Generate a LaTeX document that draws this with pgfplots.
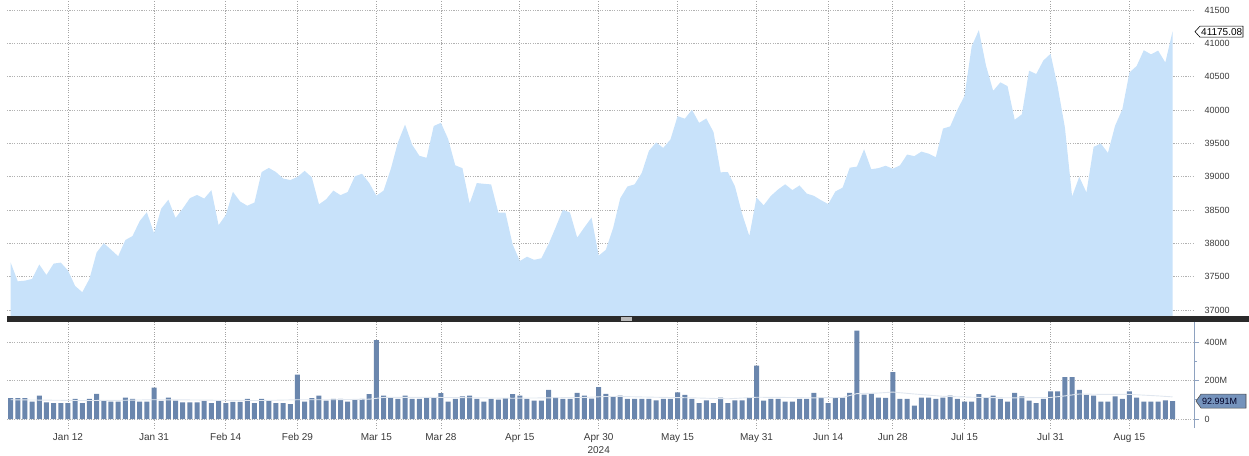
\documentclass[border=0pt]{standalone}
\usepackage{pgfplots}
\usepackage{pgfplotstable}
\pgfplotsset{compat=1.18}
\usepackage{fontspec}
\setmainfont{Liberation Sans}
\definecolor{areafill}{HTML}{C8E2FA}
\definecolor{barcol}{HTML}{6A86AD}
\definecolor{gridc}{HTML}{A4A4A4}
\definecolor{labc}{HTML}{3A3A3A}
\definecolor{sepc}{HTML}{2A2A2A}
\definecolor{axisc}{HTML}{8EA2C0}
\definecolor{tagfill}{HTML}{7593BC}

\pgfplotstableread{
i c
0 37715.04
1 37430.19
2 37440.34
3 37466.11
4 37683.01
5 37525.16
6 37695.73
7 37711.02
8 37592.98
9 37361.12
10 37266.67
11 37468.61
12 37863.80
13 38001.81
14 37905.45
15 37806.39
16 38049.13
17 38109.43
18 38333.45
19 38467.31
20 38150.30
21 38519.84
22 38654.42
23 38380.12
24 38521.36
25 38677.36
26 38726.33
27 38671.69
28 38797.38
29 38272.75
30 38424.27
31 38773.12
32 38627.99
33 38563.80
34 38612.24
35 39069.11
36 39131.53
37 39069.23
38 38972.41
39 38949.02
40 38996.39
41 39087.38
42 38989.83
43 38585.19
44 38661.05
45 38791.35
46 38722.69
47 38769.66
48 39005.49
49 39043.32
50 38905.66
51 38714.77
52 38790.43
53 39110.76
54 39512.13
55 39781.37
56 39475.90
57 39313.64
58 39282.33
59 39760.08
60 39807.37
61 39566.85
62 39170.24
63 39127.14
64 38596.98
65 38904.04
66 38892.80
67 38883.67
68 38461.51
69 38459.08
70 37983.24
71 37735.11
72 37798.97
73 37753.31
74 37775.38
75 37986.40
76 38239.98
77 38503.69
78 38460.92
79 38085.80
80 38239.66
81 38386.09
82 37815.92
83 37903.29
84 38225.66
85 38675.68
86 38852.27
87 38884.26
88 39056.39
89 39387.76
90 39512.84
91 39431.51
92 39558.11
93 39908.00
94 39869.38
95 40003.59
96 39806.77
97 39872.99
98 39671.04
99 39065.26
100 39069.59
101 38852.86
102 38441.54
103 38111.48
104 38686.32
105 38571.03
106 38711.29
107 38807.33
108 38886.17
109 38798.99
110 38868.04
111 38747.42
112 38712.21
113 38647.10
114 38589.16
115 38778.10
116 38834.86
117 39134.76
118 39150.33
119 39411.21
120 39112.16
121 39127.80
122 39164.06
123 39118.86
124 39169.52
125 39331.85
126 39308.00
127 39375.87
128 39344.79
129 39291.97
130 39721.36
131 39753.75
132 40000.90
133 40211.72
134 40954.48
135 41198.08
136 40665.02
137 40287.53
138 40415.44
139 40358.09
140 39853.87
141 39935.07
142 40589.34
143 40539.93
144 40743.33
145 40842.79
146 40347.97
147 39737.26
148 38703.27
149 38997.66
150 38763.45
151 39446.49
152 39497.54
153 39357.01
154 39765.64
155 40008.39
156 40563.06
157 40659.76
158 40896.53
159 40834.97
160 40890.49
161 40712.78
162 41175.08
}\closes

\pgfplotstableread{
i v
0 108
1 108
2 108
3 90
4 122
5 87
6 83
7 83
8 83
9 104
10 83
11 104
12 130
13 94
14 90
15 90
16 111
17 104
18 90
19 90
20 163
21 94
22 111
23 96
24 87
25 87
26 87
27 94
28 83
29 94
30 83
31 89
32 89
33 104
34 83
35 104
36 96
37 83
38 83
39 77
40 230
41 90
42 108
43 122
44 96
45 104
46 104
47 90
48 101
49 104
50 129
51 410
52 122
53 110
54 104
55 122
56 104
57 104
58 111
59 111
60 134
61 90
62 104
63 117
64 122
65 104
66 90
67 104
68 101
69 108
70 129
71 122
72 104
73 96
74 96
75 151
76 111
77 104
78 104
79 136
80 122
81 106
82 165
83 130
84 117
85 122
86 104
87 104
88 104
89 104
90 97
91 104
92 104
93 139
94 125
95 104
96 83
97 97
98 83
99 111
100 83
101 97
102 97
103 111
104 278
105 96
106 104
107 104
108 90
109 90
110 104
111 104
112 136
113 111
114 83
115 111
116 111
117 136
118 459
119 127
120 132
121 111
122 110
123 243
124 104
125 104
126 70
127 111
128 111
129 104
130 111
131 122
132 104
133 90
134 90
135 129
136 111
137 122
138 104
139 90
140 136
141 117
142 96
143 83
144 104
145 144
146 144
147 217
148 217
149 151
150 125
151 122
152 90
153 90
154 118
155 104
156 144
157 111
158 90
159 90
160 90
161 97
162 93
}\vols

\begin{document}
\begin{tikzpicture}

% ---------- price panel ----------
\begin{axis}[
  name=pricep, anchor=south west,
  scale only axis, width=1187pt, height=316pt,
  xmin=-0.5, xmax=165, ymin=36910, ymax=41650,
  scaled y ticks=false, scaled x ticks=false,
  axis line style={draw=none},
  xtick={8,20,30,40,51,60,71,82,93,104,114,123,133,145,156},
  xticklabels={},
  ytick={37000,37500,38000,38500,39000,39500,40000,40500,41000,41500},
  yticklabels={37000,37500,38000,38500,39000,39500,40000,40500,41000,41500},
  yticklabel pos=right,
  tick style={draw=none},
  yticklabel style={font=\fontsize{9}{11}\selectfont, text=labc, anchor=west, xshift=7pt},
  grid=major,
  x grid style={gridc, dotted, line width=0.7pt},
  y grid style={gridc!85, dash pattern=on 1.2pt off 1.2pt, line width=0.6pt},
]
\addplot[fill=areafill, draw=none] table[x=i,y=c]{\closes} \closedcycle;
\coordinate (lastC) at (axis cs:165,41175.08);
\end{axis}

% ---------- volume panel ----------
\begin{axis}[
  name=volp, at={(pricep.south west)}, anchor=north west, yshift=-6pt,
  scale only axis, width=1187pt, height=106pt,
  xmin=-0.5, xmax=165, ymin=-46.8, ymax=504,
  scaled y ticks=false, scaled x ticks=false,
  axis x line*=bottom, axis y line*=right,
  x axis line style={draw=none},
  y axis line style={axisc, line width=0.9pt, -},
  xtick={8,20,30,40,51,60,71,82,93,104,114,123,133,145,156},
  xticklabels={Jan 12,Jan 31,Feb 14,Feb 29,Mar 15,Mar 28,Apr 15,Apr 30\\2024,May 15,May 31,Jun 14,Jun 28,Jul 15,Jul 31,Aug 15},
  xticklabel style={font=\fontsize{10}{12.5}\selectfont, text=labc, align=center, anchor=north, yshift=3pt},
  xtick style={draw=none},
  ytick={0,200,400},
  yticklabels={0,200M,400M},
  minor ytick={100,300},
  ytick pos=right,
  tick align=outside,
  major tick length=5pt, minor tick length=3pt,
  ytick style={axisc, line width=0.8pt},
  yticklabel style={font=\fontsize{9}{11}\selectfont, text=labc, anchor=west, xshift=2pt},
  grid=major,
  x grid style={gridc, dotted, line width=0.7pt},
  y grid style={gridc!85, dash pattern=on 1.2pt off 1.2pt, line width=0.6pt},
  minor grid style={draw=none},
]
\addplot[ybar, bar width=5pt, fill=barcol, draw=none] table[x=i,y=v]{\vols};
\addplot[color=white!80!barcol, line width=0.9pt] coordinates {
(0,100) (5,98) (10,96) (15,97) (20,100) (25,99) (30,97) (35,96) (40,100) (45,100)
(50,103) (52,112) (55,112) (60,112) (65,110) (70,108) (75,110) (80,112) (83,117)
(85,117) (90,113) (95,110) (100,105) (104,113) (108,112) (112,110) (116,112)
(118,132) (121,135) (123,140) (126,130) (130,118) (135,112) (140,110) (145,112)
(147,120) (149,130) (152,128) (156,128) (160,120) (162,115)};
\coordinate (lastV) at (axis cs:165,93);
\end{axis}

% separator bar
\fill[sepc] (pricep.south west) rectangle ([xshift=55pt]volp.north east);
\fill[gray!55] ([xshift=614pt,yshift=-1.4pt]pricep.south west) rectangle ([xshift=625pt,yshift=-4.6pt]pricep.south west);

% last value tags
\draw[black, line width=0.6pt, fill=white] ([xshift=1pt]lastC) -- ++(5pt,5.5pt) -- ++(43pt,0pt) -- ++(0pt,-11pt) -- ++(-43pt,0pt) -- cycle;
\node[anchor=west, inner sep=0, font=\fontsize{10}{12}\selectfont, text=black] at ([xshift=7pt]lastC) {41175.08};

\draw[black!70, line width=0.6pt, fill=tagfill] ([xshift=2pt]lastV) -- ++(5pt,7pt) -- ++(45pt,0pt) -- ++(0pt,-14pt) -- ++(-45pt,0pt) -- cycle;
\node[anchor=west, inner sep=0, font=\fontsize{9}{11}\selectfont, text=black!85!blue] at ([xshift=8pt]lastV) {92.991M};

\pgfresetboundingbox
\path[use as bounding box] ([xshift=-7pt]pricep.north west) rectangle ([xshift=55pt,yshift=-27pt]volp.south east);
\end{tikzpicture}
\end{document}
